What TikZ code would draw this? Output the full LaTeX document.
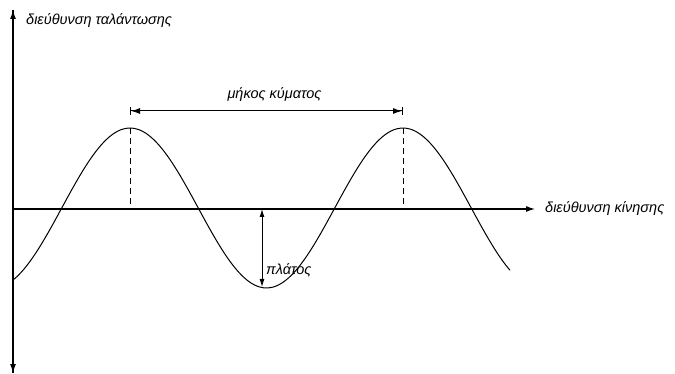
\documentclass[tikz,border=0pt]{standalone}
\usepackage{fontspec}
\setmainfont{Liberation Sans}
\usetikzlibrary{arrows.meta, positioning, calc}
\tikzset{
  axis/.style={-{Latex[length=9pt,width=6pt]}, line width=1.2pt},
  dim/.style={{Latex[length=8pt,width=5pt]}-{Latex[length=8pt,width=5pt]}, line width=1pt},
  span/.style={{Bar[width=8pt]Latex[length=9pt,width=6pt]}-{Latex[length=9pt,width=6pt]Bar[width=8pt]}, line width=1pt},
  guide/.style={dash pattern=on 6pt off 4pt, line width=1pt},
  wave/.style={line width=1pt, smooth},
  lbl/.style={font=\itshape\fontsize{14.5}{16}\selectfont, inner sep=1pt},
}

\begin{document}
\begin{tikzpicture}[x=1pt, y=-1pt]
  \useasboundingbox (0,0) rectangle (675,374);
  % axes
  \coordinate (top) at (13,10);
  \coordinate (bot) at (13,373);
  \coordinate (o) at (13,209);
  \coordinate (xend) at (535,209);
  \draw[axis] (bot) -- (top);
  \draw[axis] (top) -- (bot);
  \draw[axis] (o) -- (xend);
  \node[lbl, anchor=west] (vlabel) at (25,21) {διεύθυνση ταλάντωσης};
  \node[lbl, anchor=west, right=9pt of xend] (hlabel) {διεύθυνση κίνησης};
  % wave
  \draw[wave] plot[domain=13:510, samples=120] (\x, {208-80*cos(1.3187*(\x-130))});
  % crests and trough
  \coordinate (p1) at (130,128);
  \coordinate (p2) at (403,128);
  \coordinate (f1) at (130,209);
  \coordinate (f2) at (403,209);
  \coordinate (tr) at (262,287);
  \coordinate (tf) at (262,209);
  \draw[guide] (p1) -- (f1);
  \draw[guide] (p2) -- (f2);
  % wavelength
  \coordinate (w1) at (130,111);
  \coordinate (w2) at (403,111);
  \draw[span] (w1) -- (w2) node[lbl, midway, above=8pt, xshift=8pt] (wlabel) {μήκος κύματος};
  % amplitude
  \draw[dim] (tf) -- (tr);
  \node[lbl, anchor=west] (alabel) at (265,270) {πλάτος};
\end{tikzpicture}
\end{document}
